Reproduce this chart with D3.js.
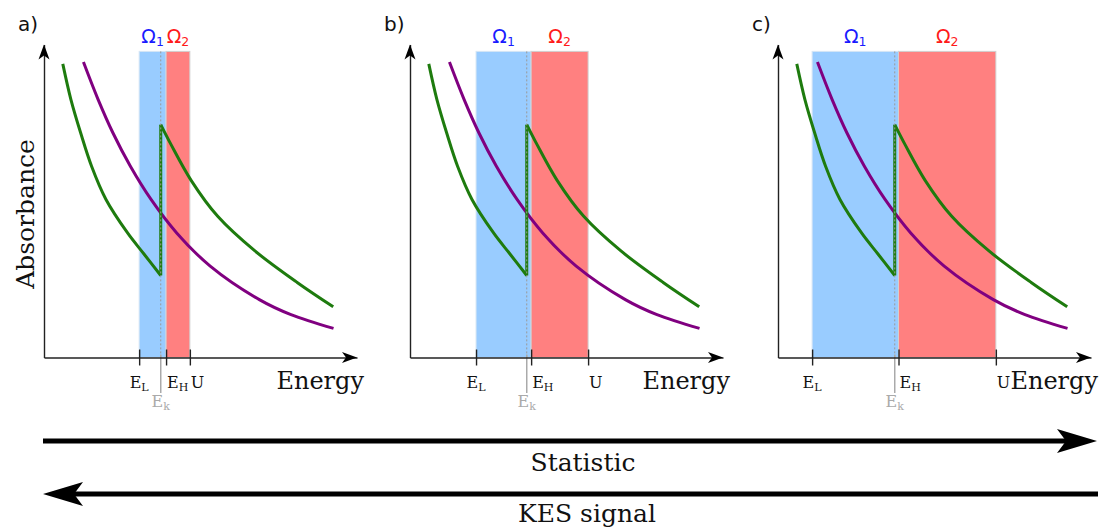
<!DOCTYPE html>
<html><head><meta charset="utf-8">
<script src="https://cdn.jsdelivr.net/npm/d3@7"></script>
<style>body{margin:0;background:#fff} svg{display:block}</style>
</head><body>
<svg id="chart" width="1103" height="532"></svg>
<script>
// ---------- data ----------
const panelLabels = ["a)", "b)", "c)"];
const lowEdges   = [3.04, 2.11, 1.09];   // E_L per panel
const highEdges  = [3.90, 3.87, 3.85];   // E_H per panel
const upperEdges = [4.66, 5.69, 6.96];   // U per panel
const edgeEnergy = 3.73;                 // E_k
const bandTop = 9.78;
const greenBelow = [[0.60,9.38],[0.86,8.24],[1.17,7.18],[1.52,6.11],[1.98,5.05],[2.67,3.98],[3.20,3.30],[3.73,2.62]];
const greenAbove = [[3.73,7.44],[4.06,6.80],[4.70,5.66],[5.55,4.51],[6.72,3.42],[8.10,2.39],[9.24,1.62]];
const purpleCurve = [[1.26,9.44],[1.73,8.24],[2.20,7.18],[2.76,6.11],[3.42,5.05],[4.24,3.98],[5.31,2.92],[6.88,1.85],[7.89,1.37],[9.25,0.93]];
const regionNames = ["Ω", "Ω"];
const regionSubs = ["1", "2"];
const tickNames = [["E","L"], ["E","H"], ["U",""]];
const edgeName = ["E", "k"];
const xTitle = "Energy";
const yTitle = "Absorbance";
const arrowTexts = ["Statistic", "KES signal"];

// ---------- layout ----------
const svg = d3.select("#chart");
const origins = [44, 410, 778];
const axisY = 357.5, topY = 44.5, axisLen = 313;
const serif = "'DejaVu Serif', serif", sans = "'DejaVu Sans', sans-serif";
const cBlue = "#99ccff", cRed = "#ff8080", cGreen = "#1e7b0e", cPurple = "#800080";

function arrowHead(g, tx, ty, dx, dy, len, half, notch) {
  const px = -dy, py = dx;
  const bx = tx - dx*len, by = ty - dy*len;
  const nx = tx - dx*notch, ny = ty - dy*notch;
  g.append("path")
    .attr("d", `M${tx},${ty}L${bx+px*half},${by+py*half}L${nx},${ny}L${bx-px*half},${by-py*half}Z`)
    .attr("fill", "#000");
}

panelLabels.forEach((lab, i) => {
  const ox = origins[i];
  const x = d3.scaleLinear().domain([0, 10]).range([ox, ox + axisLen]);
  const y = d3.scaleLinear().domain([0, 10]).range([axisY, topY]);
  const g = svg.append("g");

  // bands
  g.append("rect").attr("x", x(lowEdges[i])).attr("y", y(bandTop))
    .attr("width", x(highEdges[i]) - x(lowEdges[i])).attr("height", y(0) - y(bandTop))
    .attr("fill", cBlue).attr("stroke", "#d6e6f5").attr("stroke-width", 1);
  g.append("rect").attr("x", x(highEdges[i])).attr("y", y(bandTop))
    .attr("width", x(upperEdges[i]) - x(highEdges[i])).attr("height", y(0) - y(bandTop))
    .attr("fill", cRed).attr("stroke", "#d0d0d0").attr("stroke-width", 1);

  // region labels
  const cx = [(x(lowEdges[i]) + x(highEdges[i])) / 2, (x(highEdges[i]) + x(upperEdges[i])) / 2];
  regionNames.forEach((nm, k) => {
    const t = g.append("text").attr("x", cx[k]).attr("y", 43).attr("text-anchor", "middle")
      .attr("font-family", sans).attr("font-size", 19).attr("fill", k === 0 ? "#1a1aff" : "#ff1a1a");
    t.append("tspan").text(nm);
    t.append("tspan").attr("dy", 3).attr("font-size", 12.5).text(regionSubs[k]);
  });

  // curves
  const line = d3.line().x(d => x(d[0])).y(d => y(d[1])).curve(d3.curveCatmullRom.alpha(0.5));
  g.append("path").datum(purpleCurve).attr("d", line).attr("fill", "none")
    .attr("stroke", cPurple).attr("stroke-width", 3);
  const gJump = [greenBelow[greenBelow.length - 1], greenAbove[0]];
  g.append("path").datum(greenBelow).attr("d", line).attr("fill", "none")
    .attr("stroke", cGreen).attr("stroke-width", 3);
  g.append("path").datum(gJump).attr("d", d3.line().x(d => x(d[0])).y(d => y(d[1])))
    .attr("fill", "none").attr("stroke", cGreen).attr("stroke-width", 3);
  g.append("path").datum(greenAbove).attr("d", line).attr("fill", "none")
    .attr("stroke", cGreen).attr("stroke-width", 3);

  // E_k dashed & solid line
  g.append("line").attr("x1", x(edgeEnergy)).attr("x2", x(edgeEnergy))
    .attr("y1", y(bandTop)).attr("y2", y(0)).attr("stroke", "#9a9a9a")
    .attr("stroke-width", 1).attr("stroke-dasharray", "2,2");
  g.append("line").attr("x1", x(edgeEnergy)).attr("x2", x(edgeEnergy))
    .attr("y1", y(0) - 3).attr("y2", 393).attr("stroke", "#aaaaaa").attr("stroke-width", 1.5);

  // axes
  const xAxis = d3.axisBottom(x).tickValues([lowEdges[i], highEdges[i], upperEdges[i]])
    .tickSizeInner(8).tickSizeOuter(0).tickFormat("");
  const ga = g.append("g").attr("transform", `translate(0,${axisY})`).call(xAxis);
  ga.select(".domain").attr("stroke", "#222").attr("stroke-width", 1.4);
  ga.selectAll(".tick line").attr("y1", -8).attr("y2", 8).attr("stroke", "#222").attr("stroke-width", 1.4);
  const yAxis = d3.axisLeft(y).tickValues([]).tickSizeOuter(0);
  const gy = g.append("g").attr("transform", `translate(${ox},0)`).call(yAxis);
  gy.select(".domain").attr("stroke", "#222").attr("stroke-width", 1.4);
  arrowHead(g, x(10), axisY, 1, 0, 15, 5.5, 11);
  arrowHead(g, ox, y(10), 0, -1, 15, 5.5, 11);

  // tick labels
  const tv = [lowEdges[i], highEdges[i], upperEdges[i]];
  tickNames.forEach((tn, k) => {
    const t = g.append("text").attr("x", k === 0 ? x(tv[k]) : x(tv[k]) + 1).attr("y", 388)
      .attr("text-anchor", k === 0 ? "middle" : "start")
      .attr("font-family", serif).attr("font-size", 16).attr("fill", "#111");
    t.append("tspan").text(tn[0]);
    if (tn[1]) t.append("tspan").attr("dy", 3).attr("font-size", 11).text(tn[1]);
  });
  const te = g.append("text").attr("x", x(edgeEnergy)).attr("y", 407).attr("text-anchor", "middle")
    .attr("font-family", serif).attr("font-size", 16).attr("fill", "#aaaaaa");
  te.append("tspan").text(edgeName[0]);
  te.append("tspan").attr("dy", 3).attr("font-size", 11).text(edgeName[1]);

  // axis title
  g.append("text").attr("x", ox + 320).attr("y", 389).attr("text-anchor", "end")
    .attr("font-family", serif).attr("font-size", 24).attr("fill", "#111").text(xTitle);

  // panel label
  g.append("text").attr("x", ox - 26).attr("y", 31).attr("font-family", sans)
    .attr("font-size", 20).attr("fill", "#111").text(lab);

  if (i === 0) {
    g.append("text").attr("transform", "translate(34,214) rotate(-90)").attr("text-anchor", "middle")
      .attr("font-family", serif).attr("font-size", 25).attr("fill", "#111").text(yTitle);
  }
});

// bottom arrows
const ax = d3.scaleLinear().domain([0, 1]).range([43, 1097]);
svg.append("line").attr("x1", ax(0)).attr("x2", ax(1) - 30).attr("y1", 441).attr("y2", 441)
  .attr("stroke", "#000").attr("stroke-width", 5);
arrowHead(svg, ax(1), 441, 1, 0, 40, 12, 31);
svg.append("text").attr("x", 583).attr("y", 471).attr("text-anchor", "middle")
  .attr("font-family", serif).attr("font-size", 25).attr("fill", "#111").text(arrowTexts[0]);
svg.append("line").attr("x1", ax(0) + 30).attr("x2", 1098).attr("y1", 494).attr("y2", 494)
  .attr("stroke", "#000").attr("stroke-width", 5);
arrowHead(svg, ax(0), 494, -1, 0, 40, 12, 31);
svg.append("text").attr("x", 587).attr("y", 522).attr("text-anchor", "middle")
  .attr("font-family", serif).attr("font-size", 25).attr("fill", "#111").text(arrowTexts[1]);
</script>
</body></html>
